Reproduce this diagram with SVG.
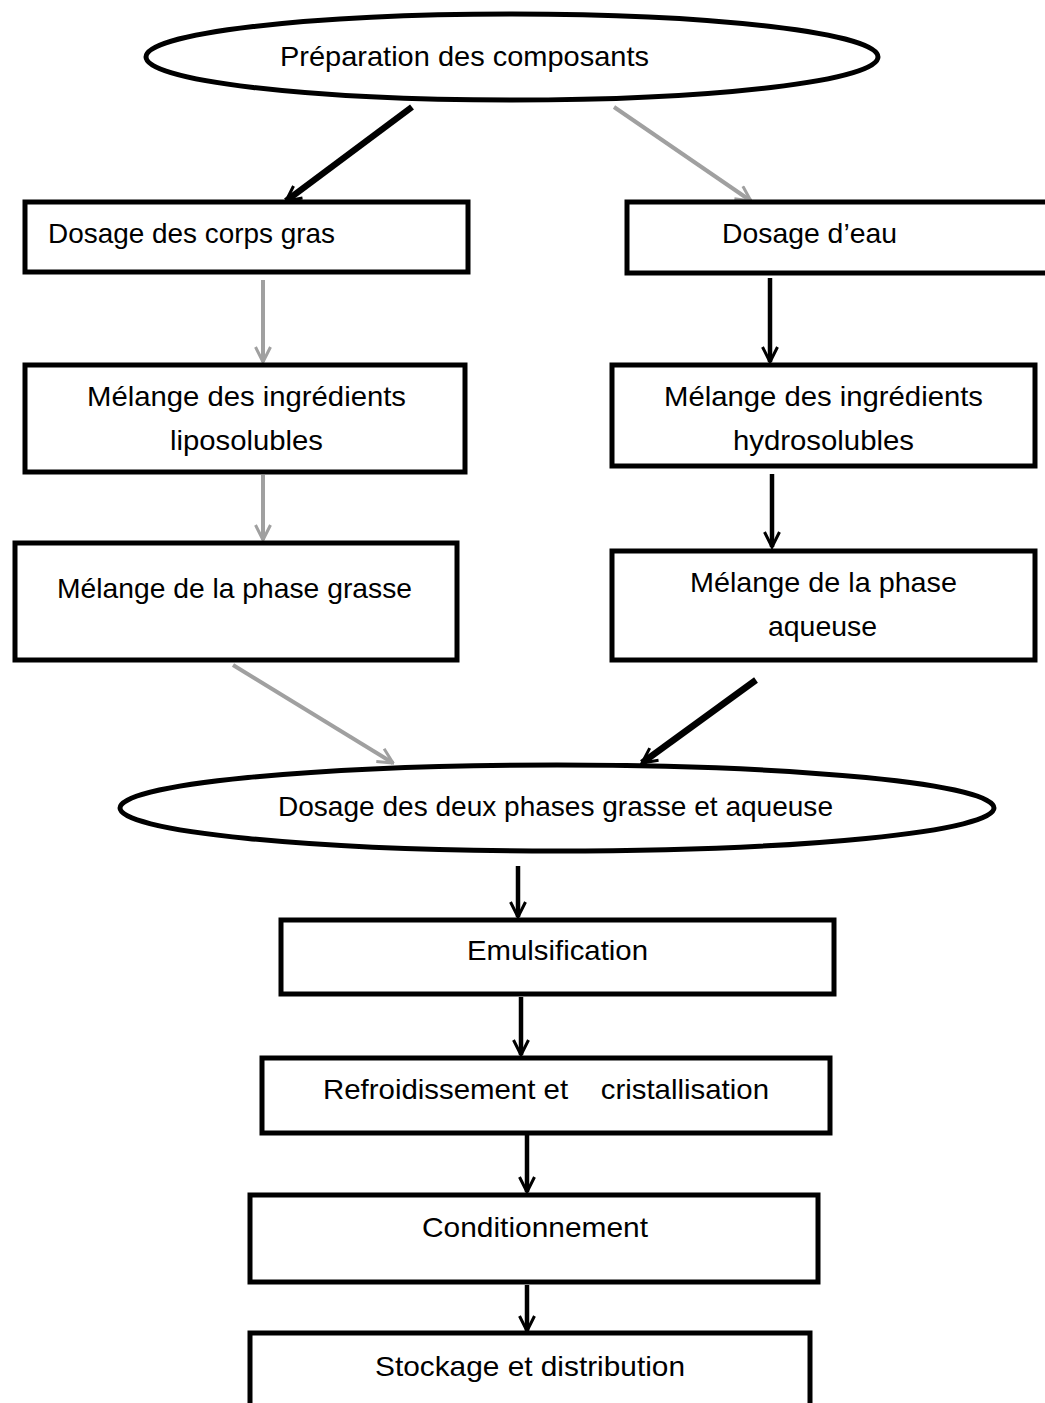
<svg xmlns="http://www.w3.org/2000/svg" width="1045" height="1403" viewBox="0 0 1045 1403">
<defs>
<style>
.box{fill:#fff;stroke:#000;stroke-width:5}
.ell{fill:#fff;stroke:#000;stroke-width:5}
.t{font-family:"Liberation Sans",Arial,sans-serif;font-size:28px;fill:#000}
.cb{fill:none;stroke:#000;stroke-width:4.5}
.cbt{fill:none;stroke:#000;stroke-width:6.5}
.cg{fill:none;stroke:#a0a0a0;stroke-width:4}
</style>
<marker id="ab" viewBox="0 0 12 12" refX="11" refY="6" markerWidth="18" markerHeight="18" markerUnits="userSpaceOnUse" orient="auto">
<path d="M1,1 L11,6 L1,11" fill="none" stroke="#000" stroke-width="2"/>
</marker>
<marker id="ag" viewBox="0 0 12 12" refX="11" refY="6" markerWidth="18" markerHeight="18" markerUnits="userSpaceOnUse" orient="auto">
<path d="M1,1 L11,6 L1,11" fill="none" stroke="#a0a0a0" stroke-width="2"/>
</marker>
</defs>
<rect width="1045" height="1403" fill="#fff"/>

<g id="connectors">
<line class="cbt" x1="412" y1="107" x2="286" y2="201" marker-end="url(#ab)"/>
<line class="cg" x1="614" y1="107" x2="751" y2="201" marker-end="url(#ag)"/>
<line class="cg" x1="263" y1="280" x2="263" y2="362" marker-end="url(#ag)"/>
<line class="cb" x1="770" y1="278" x2="770" y2="362" marker-end="url(#ab)"/>
<line class="cg" x1="263" y1="475" x2="263" y2="540" marker-end="url(#ag)"/>
<line class="cb" x1="772" y1="474" x2="772" y2="547" marker-end="url(#ab)"/>
<line class="cg" x1="233" y1="665" x2="393" y2="763" marker-end="url(#ag)"/>
<line class="cbt" x1="756" y1="680" x2="642" y2="763" marker-end="url(#ab)"/>
<line class="cb" x1="518" y1="866" x2="518" y2="917" marker-end="url(#ab)"/>
<line class="cb" x1="521" y1="997" x2="521" y2="1055" marker-end="url(#ab)"/>
<line class="cb" x1="527" y1="1135" x2="527" y2="1192" marker-end="url(#ab)"/>
<line class="cb" x1="527" y1="1285" x2="527" y2="1331" marker-end="url(#ab)"/>
</g>

<g id="n-preparation">
<ellipse class="ell" cx="512" cy="57" rx="366" ry="43"/>
<text class="t" x="280" y="66" textLength="369" lengthAdjust="spacingAndGlyphs">Préparation des composants</text>
</g>

<g id="n-dosage-corps-gras">
<rect class="box" x="25" y="202" width="443" height="70"/>
<text class="t" x="48" y="243" textLength="287" lengthAdjust="spacingAndGlyphs">Dosage des corps gras</text>
</g>

<g id="n-dosage-eau">
<rect class="box" x="627" y="202" width="430" height="71"/>
<text class="t" x="722" y="243" textLength="175" lengthAdjust="spacingAndGlyphs">Dosage d’eau</text>
</g>

<g id="n-melange-lipo">
<rect class="box" x="25" y="365" width="440" height="107"/>
<text class="t" x="87" y="406" textLength="319" lengthAdjust="spacingAndGlyphs">Mélange des ingrédients</text>
<text class="t" x="170" y="450" textLength="153" lengthAdjust="spacingAndGlyphs">liposolubles</text>
</g>

<g id="n-melange-hydro">
<rect class="box" x="612" y="365" width="423" height="101"/>
<text class="t" x="664" y="406" textLength="319" lengthAdjust="spacingAndGlyphs">Mélange des ingrédients</text>
<text class="t" x="733" y="450" textLength="181" lengthAdjust="spacingAndGlyphs">hydrosolubles</text>
</g>

<g id="n-phase-grasse">
<rect class="box" x="15" y="543" width="442" height="117"/>
<text class="t" x="57" y="598" textLength="355" lengthAdjust="spacingAndGlyphs">Mélange de la phase grasse</text>
</g>

<g id="n-phase-aqueuse">
<rect class="box" x="612" y="551" width="423" height="109"/>
<text class="t" x="690" y="592" textLength="267" lengthAdjust="spacingAndGlyphs">Mélange de la phase</text>
<text class="t" x="768" y="636" textLength="109" lengthAdjust="spacingAndGlyphs">aqueuse</text>
</g>

<g id="n-dosage-deux-phases">
<ellipse class="ell" cx="557" cy="808" rx="437" ry="43"/>
<text class="t" x="278" y="816" textLength="555" lengthAdjust="spacingAndGlyphs">Dosage des deux phases grasse et aqueuse</text>
</g>

<g id="n-emulsification">
<rect class="box" x="281" y="920" width="553" height="74"/>
<text class="t" x="467" y="960" textLength="181" lengthAdjust="spacingAndGlyphs">Emulsification</text>
</g>

<g id="n-refroidissement">
<rect class="box" x="262" y="1058" width="568" height="75"/>
<text class="t" x="323" y="1099" textLength="446" lengthAdjust="spacingAndGlyphs" xml:space="preserve">Refroidissement et    cristallisation</text>
</g>

<g id="n-conditionnement">
<rect class="box" x="250" y="1195" width="568" height="87"/>
<text class="t" x="422" y="1237" textLength="226" lengthAdjust="spacingAndGlyphs">Conditionnement</text>
</g>

<g id="n-stockage">
<rect class="box" x="250" y="1333" width="560" height="90"/>
<text class="t" x="375" y="1376" textLength="310" lengthAdjust="spacingAndGlyphs">Stockage et distribution</text>
</g>
</svg>
